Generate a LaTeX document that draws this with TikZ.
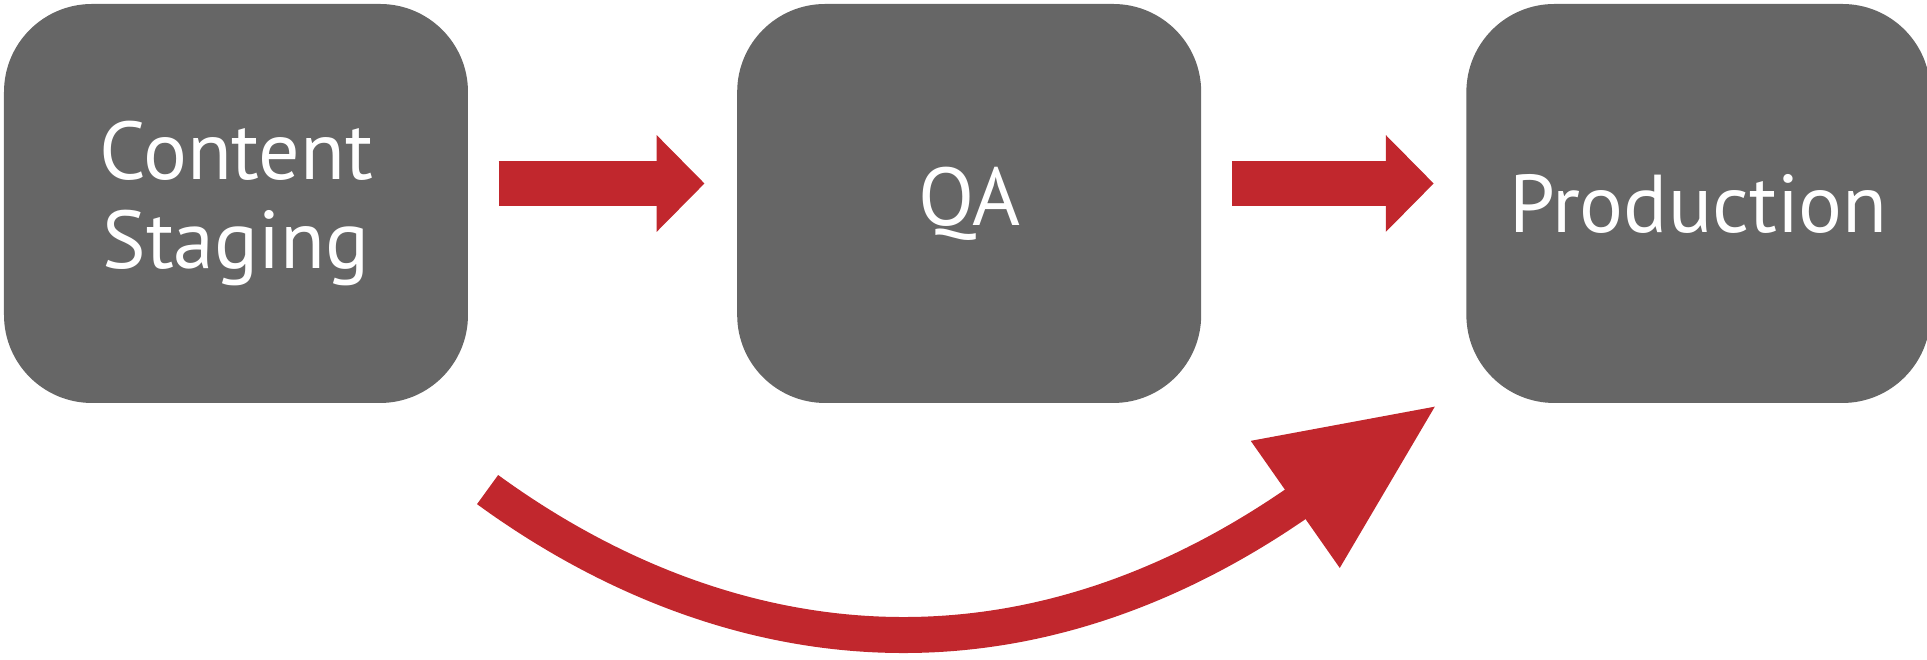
\documentclass[tikz,border=0pt]{standalone}
\usepackage{fontspec}
\setmainfont{PT Sans}
\usetikzlibrary{arrows.meta,positioning}
\definecolor{stagegray}{RGB}{102,102,102}
\definecolor{flowred}{RGB}{193,39,45}

\begin{document}
\begin{tikzpicture}[x = 0.125pt, y = -0.125pt,
    stage/.style = {fill = stagegray, rounded corners = 11pt, minimum width = 58pt,
                    minimum height = 49.875pt, inner sep = 0pt, text = white, align = center,
                    font = \fontsize{10.25}{11.125}\selectfont},
    flow/.style = {draw = flowred, line width = 5.625pt, -{Triangle[length = 6pt, width = 11.75pt]},
                   shorten < = 3.625pt, shorten > = 3.875pt},
    skip/.style = {draw = flowred, line width = 4.5pt, -{Triangle[length = 21.75pt, width = 18pt]}}]
          \useasboundingbox (0,0) rectangle (1927,660);
          \node[stage] (content) at (236,203.5) {Content\\Staging};
          \node[stage, right = 33.25pt of content] (qa) {QA};
          \node[stage, right = 32.75pt of qa] (prod) {Production};
          \draw[flow] ([yshift = 2.5pt]content.east) -- ([yshift = 2.5pt]qa.west);
          \draw[flow] ([yshift = 2.5pt]qa.east) -- ([yshift = 2.5pt]prod.west);
          % skipping QA
          \coordinate (skip-start) at ([shift = {(2.25pt,-10.625pt)}]content.south east);
          \coordinate (skip-end) at ([xshift = -3.375pt]prod.south west);
          \draw[skip] (skip-start) .. controls +(210,153) and +(-445.5,312) .. (skip-end);
        \end{tikzpicture}
\end{document}
